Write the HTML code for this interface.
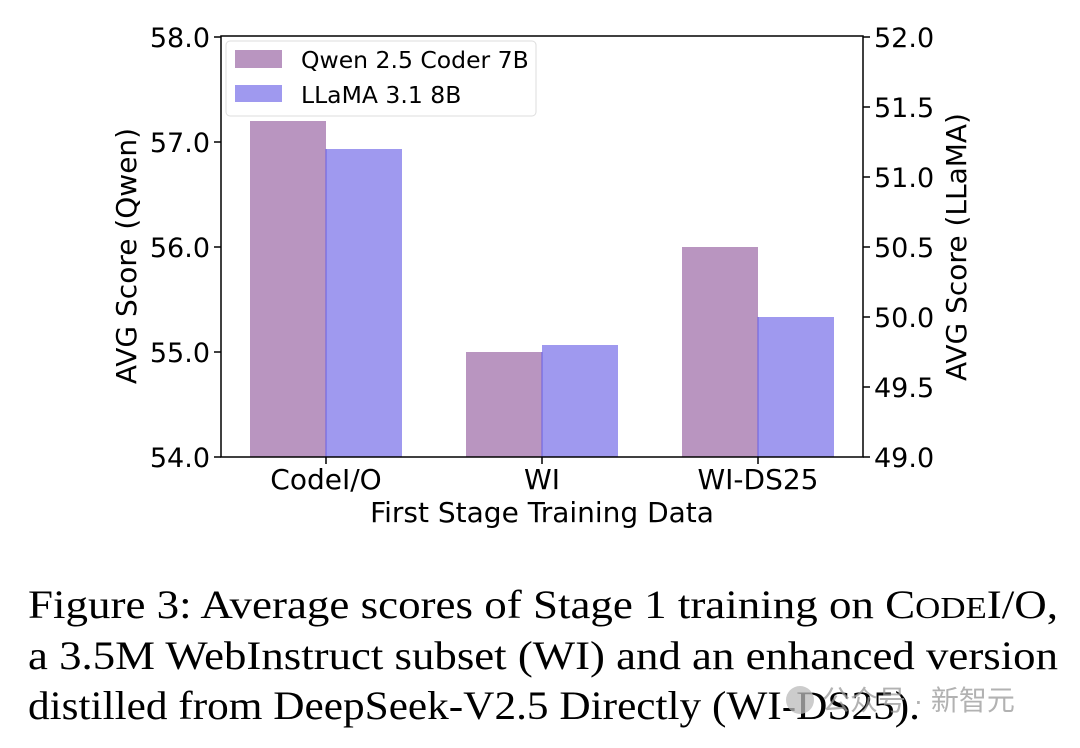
<!DOCTYPE html>
<html><head><meta charset="utf-8"><style>
body{margin:0;background:#fff;width:1080px;height:743px;overflow:hidden}
.cap{font-family:"Liberation Serif","Times New Roman",serif;font-size:40px}
.sans{font-family:"DejaVu Sans",sans-serif}
</style></head><body>
<svg width="1080" height="743" xmlns="http://www.w3.org/2000/svg" class="sans">
<g>
<rect x="250" y="121" width="76" height="336" fill="#b995c0"/>
<rect x="326" y="149" width="76" height="308" fill="#9f99ef"/>
<rect x="466" y="352" width="76" height="105" fill="#b995c0"/>
<rect x="542" y="345" width="76" height="112" fill="#9f99ef"/>
<rect x="682" y="247" width="76" height="210" fill="#b995c0"/>
<rect x="758" y="317" width="76" height="140" fill="#9f99ef"/>
<line x1="326" y1="149" x2="326" y2="457" stroke="#6a5ee0" stroke-width="1"/>
<line x1="542" y1="352" x2="542" y2="457" stroke="#6a5ee0" stroke-width="1"/>
<line x1="758" y1="317" x2="758" y2="457" stroke="#6a5ee0" stroke-width="1"/>
</g>
<rect x="221" y="36" width="642" height="421" fill="none" stroke="#000" stroke-width="1.5"/>
<g stroke="#000" stroke-width="1.5">
<line x1="214" y1="37" x2="221" y2="37"/><line x1="214" y1="142" x2="221" y2="142"/><line x1="214" y1="247" x2="221" y2="247"/><line x1="214" y1="352" x2="221" y2="352"/><line x1="214" y1="457" x2="221" y2="457"/>
<line x1="863" y1="37" x2="870" y2="37"/><line x1="863" y1="107" x2="870" y2="107"/><line x1="863" y1="177" x2="870" y2="177"/><line x1="863" y1="247" x2="870" y2="247"/><line x1="863" y1="317" x2="870" y2="317"/><line x1="863" y1="387" x2="870" y2="387"/><line x1="863" y1="457" x2="870" y2="457"/>
<line x1="326" y1="457" x2="326" y2="464"/><line x1="542" y1="457" x2="542" y2="464"/><line x1="758" y1="457" x2="758" y2="464"/>
</g>
<g font-size="27" fill="#000" text-anchor="end">
<text x="210" y="47">58.0</text><text x="210" y="152">57.0</text><text x="210" y="257">56.0</text><text x="210" y="362">55.0</text><text x="210" y="467">54.0</text>
</g>
<g font-size="27" fill="#000">
<text x="874" y="47">52.0</text><text x="874" y="117">51.5</text><text x="874" y="187">51.0</text><text x="874" y="257">50.5</text><text x="874" y="327">50.0</text><text x="874" y="397">49.5</text><text x="874" y="467">49.0</text>
</g>
<g font-size="28" fill="#000" text-anchor="middle">
<text x="326" y="489">CodeI/O</text><text x="542" y="489">WI</text><text x="758" y="489">WI-DS25</text>
<text x="542" y="522">First Stage Training Data</text>
<text transform="translate(136,256) rotate(-90)">AVG Score (Qwen)</text>
<text transform="translate(966,247) rotate(-90)">AVG Score (LLaMA)</text>
</g>
<rect x="226" y="41" width="310" height="75" rx="4" fill="#fff" fill-opacity="0.8" stroke="#ddd" stroke-width="1"/>
<rect x="235" y="50" width="47" height="18" fill="#b995c0"/>
<rect x="235" y="85" width="47" height="17" fill="#9f99ef"/>
<g font-size="23.5" fill="#000"><text x="301" y="68">Qwen 2.5 Coder 7B</text><text x="301" y="103">LLaMA 3.1 8B</text></g>
<g class="cap" fill="#000">
<text x="28" y="618" textLength="1030" lengthAdjust="spacingAndGlyphs">Figure 3: Average scores of Stage 1 training on C<tspan font-size="31">ODE</tspan>I/O,</text>
<text x="28" y="669" textLength="1030" lengthAdjust="spacingAndGlyphs">a 3.5M WebInstruct subset (WI) and an enhanced version</text>
<text x="28" y="719" textLength="892" lengthAdjust="spacingAndGlyphs">distilled from DeepSeek-V2.5 Directly (WI-DS25).</text>
</g>
<g style='font-family:"Liberation Sans","Noto Sans CJK SC",sans-serif' font-size="28" fill="#999" opacity="0.75">
<circle cx="800" cy="700" r="14" fill="#bbb"/>
<text x="822" y="710">公众号 · 新智元</text>
</g>
</svg>
</body></html>
